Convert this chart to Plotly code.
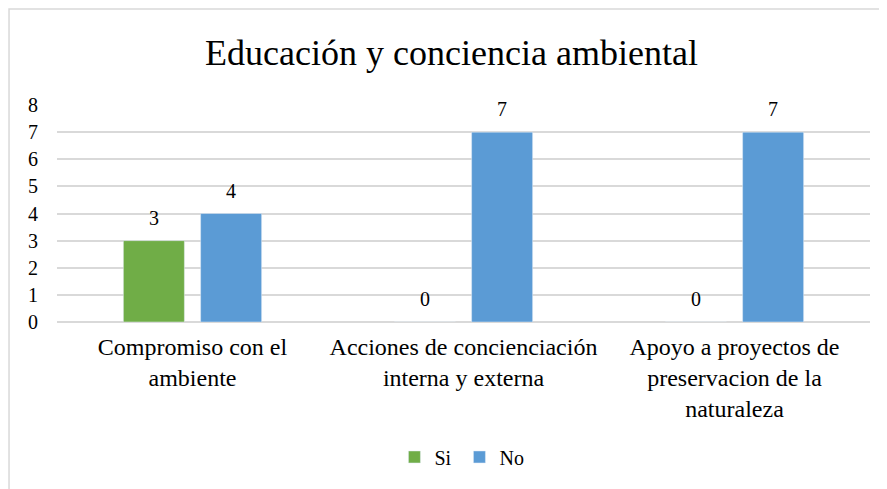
import plotly.graph_objects as go

# --- Data ---
categories = [
    "Compromiso con el<br>ambiente",
    "Acciones de concienciación<br>interna y externa",
    "Apoyo a proyectos de<br>preservacion de la<br>naturaleza",
]
si_values = [3, 0, 0]
no_values = [4, 7, 7]
y_ticks = [0, 1, 2, 3, 4, 5, 6, 7, 8]

green = "#70AD47"
blue = "#5B9BD5"
serif = "Liberation Serif"

fig = go.Figure()
fig.add_trace(go.Bar(x=categories, y=si_values, name="Si", marker=dict(color=green)))
fig.add_trace(go.Bar(x=categories, y=no_values, name="No", marker=dict(color=blue)))

# value labels above each bar (offset to the bar's slot inside the group)
for i, cat in enumerate(categories):
    for vals, dx in ((si_values, -38.5), (no_values, 38.5)):
        fig.add_annotation(
            x=cat,
            y=vals[i],
            text=str(vals[i]),
            xshift=dx,
            yshift=10,
            yanchor="bottom",
            showarrow=False,
            font=dict(family=serif, size=20, color="#000000"),
        )

# light frame of the chart area (cropped at right/bottom like the original)
fig.add_shape(
    type="rect",
    xref="paper",
    yref="paper",
    x0=-0.059,
    x1=1.2,
    y0=-1.5,
    y1=1.442,
    line=dict(color="#D9D9D9", width=1.5),
    fillcolor="rgba(0,0,0,0)",
    layer="below",
)

fig.update_layout(
    width=887,
    height=489,
    paper_bgcolor="white",
    plot_bgcolor="white",
    font=dict(family=serif, color="#000000", size=20),
    title=dict(
        text="Educación y conciencia ambiental",
        font=dict(family=serif, size=36, color="#000000"),
        x=0.5,
        xanchor="center",
        y=0.91,
        yanchor="middle",
    ),
    barmode="group",
    bargap=0.43,
    bargroupgap=0.21,
    showlegend=True,
    legend=dict(
        orientation="h",
        x=0.495,
        xanchor="center",
        y=-0.622,
        yanchor="middle",
        font=dict(family=serif, size=20, color="#000000"),
        itemwidth=30,
        entrywidth=20,
        entrywidthmode="pixels",
        traceorder="normal",
    ),
    margin=dict(t=97, l=49, r=25, b=175),
)

fig.update_xaxes(
    showline=False,
    showgrid=False,
    ticks="",
    tickfont=dict(family=serif, size=24, color="#000000"),
    ticklabelstandoff=8,
)
fig.update_yaxes(
    range=[0, 8],
    tickvals=y_ticks,
    showgrid=True,
    gridcolor="#D9D9D9",
    gridwidth=1.5,
    zeroline=True,
    zerolinecolor="#D9D9D9",
    zerolinewidth=1.5,
    showline=False,
    ticks="",
    ticklabelstandoff=18,
    tickfont=dict(family=serif, size=20, color="#000000"),
)

fig.write_html("out.html")
